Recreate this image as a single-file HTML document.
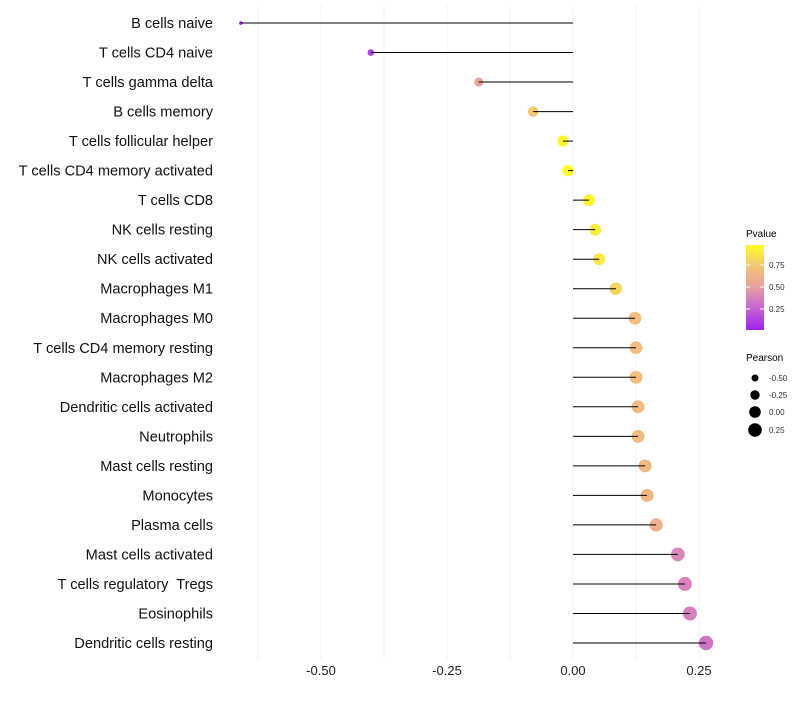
<!DOCTYPE html>
<html><head><meta charset="utf-8"><style>
body{margin:0;background:#fff;font-family:"Liberation Sans",sans-serif}
svg text{font-family:"Liberation Sans",sans-serif;white-space:pre}
</style></head><body>
<svg id="chart" width="800" height="700" xmlns="http://www.w3.org/2000/svg">
<defs><linearGradient id="pg" x1="0" y1="1" x2="0" y2="0">
<stop offset="0" stop-color="#a020f0"/><stop offset="0.3" stop-color="#cc70cc"/><stop offset="0.5" stop-color="#e8a0a0"/><stop offset="0.75" stop-color="#f4c478"/><stop offset="1" stop-color="#ffff20"/></linearGradient></defs>
<g id="grid"></g><g id="marks"></g><g id="labels"></g>
<g>
<text x="746" y="237" font-size="10" fill="#000">Pvalue</text>
<rect x="746" y="245" width="18" height="85" fill="url(#pg)"/>
<line x1="746" y1="265" x2="750" y2="265" stroke="#fff"/><line x1="760" y1="265" x2="764" y2="265" stroke="#fff"/>
<line x1="746" y1="287" x2="750" y2="287" stroke="#fff"/><line x1="760" y1="287" x2="764" y2="287" stroke="#fff"/>
<line x1="746" y1="309" x2="750" y2="309" stroke="#fff"/><line x1="760" y1="309" x2="764" y2="309" stroke="#fff"/>
<text x="769" y="268" font-size="8" fill="#333">0.75</text>
<text x="769" y="290" font-size="8" fill="#333">0.50</text>
<text x="769" y="312" font-size="8" fill="#333">0.25</text>
</g>
<g>
<text x="746" y="361" font-size="10" fill="#000">Pearson</text>
<circle cx="755" cy="378" r="3.5"/><text x="769" y="381" font-size="8" fill="#333">-0.50</text>
<circle cx="755" cy="395" r="4.7"/><text x="769" y="398" font-size="8" fill="#333">-0.25</text>
<circle cx="755" cy="412" r="5.8"/><text x="769" y="415" font-size="8" fill="#333">0.00</text>
<circle cx="755" cy="430" r="6.8"/><text x="769" y="433" font-size="8" fill="#333">0.25</text>
</g>
</svg>
<script>
const cells=["B cells naive","T cells CD4 naive","T cells gamma delta","B cells memory","T cells follicular helper","T cells CD4 memory activated","T cells CD8","NK cells resting","NK cells activated","Macrophages M1","Macrophages M0","T cells CD4 memory resting","Macrophages M2","Dendritic cells activated","Neutrophils","Mast cells resting","Monocytes","Plasma cells","Mast cells activated","T cells regulatory  Tregs","Eosinophils","Dendritic cells resting"];
const pearson=[-0.659,-0.401,-0.187,-0.079,-0.020,-0.010,0.032,0.044,0.052,0.085,0.123,0.125,0.125,0.129,0.129,0.143,0.147,0.165,0.208,0.222,0.232,0.264];
const pvalue=[0.01,0.12,0.52,0.75,0.95,0.97,0.93,0.9,0.88,0.8,0.69,0.69,0.69,0.68,0.68,0.66,0.66,0.6,0.4,0.38,0.36,0.32];
const ticks=[-0.5,-0.25,0,0.25];
const tickLabels=["-0.50","-0.25","0.00","0.25"];
const NS="http://www.w3.org/2000/svg";
const X=v=>573+v*504;
const Y=i=>23+i*(620/21);
const R=v=>1.8+(v+0.66)/0.92*5.4;
const stops=[[0,[160,32,240]],[0.3,[204,112,204]],[0.5,[232,160,160]],[0.75,[244,196,120]],[1,[255,255,32]]];
function col(p){const t=Math.max(0,Math.min(1,(p-0.01)/0.967));for(let k=1;k<stops.length;k++){if(t<=stops[k][0]){const a=stops[k-1],b=stops[k],f=(t-a[0])/(b[0]-a[0]);return 'rgb('+a[1].map((c,j)=>Math.round(c+(b[1][j]-c)*f)).join(',')+')';}}return 'rgb(255,255,32)';}
function mk(tag,at,parent){const e=document.createElementNS(NS,tag);for(const k in at)e.setAttribute(k,at[k]);parent.appendChild(e);return e;}
const grid=document.getElementById('grid'),marks=document.getElementById('marks'),labels=document.getElementById('labels');
for(let v=-0.625;v<=0.3;v+=0.125){const g=mk('line',{x1:X(v),x2:X(v),y1:5,y2:660,stroke:'#f2f2f2','stroke-width':1},grid);

}
ticks.forEach((t,i)=>{const e=mk('text',{x:X(t),y:675,'font-size':13,fill:'#222','text-anchor':'middle'},labels);e.textContent=tickLabels[i];

});
cells.forEach((c,i)=>{const y=Y(i);
const t=mk('text',{x:213,y:y+5,'font-size':14.6,fill:'#111','text-anchor':'end'},labels);t.textContent=c;


const ci=mk('circle',{cx:X(pearson[i]),cy:y,r:R(pearson[i]),fill:col(pvalue[i])},marks);


const l=mk('line',{x1:X(0),x2:X(pearson[i]),y1:y,y2:y,stroke:'#000','stroke-width':1},marks);

});
</script>
</body></html>
